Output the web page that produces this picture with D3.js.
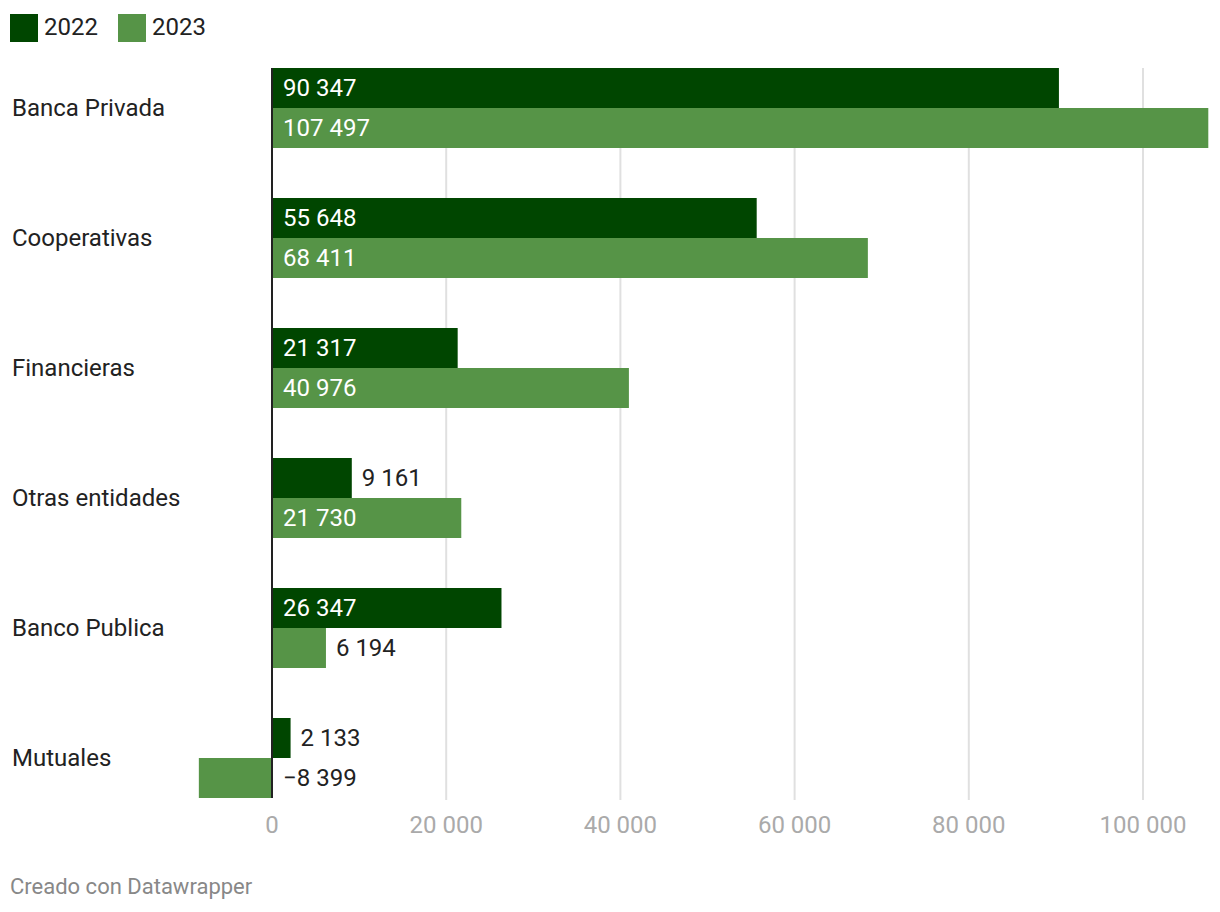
<!DOCTYPE html>
<html><head><meta charset="utf-8">
<script src="https://cdn.jsdelivr.net/npm/d3@7"></script>
<style>body{margin:0;background:#fff;font-family:Roboto,"Noto Sans",sans-serif;}</style>
</head><body><svg id="c" width="1220" height="912"></svg>
<script>
const categories = ["Banca Privada","Cooperativas","Financieras","Otras entidades","Banco Publica","Mutuales"];
const seriesNames = ["2022","2023"];
const values2022 = [90347,55648,21317,9161,26347,2133];
const values2023 = [107497,68411,40976,21730,6194,-8399];
const tickValues = [0,20000,40000,60000,80000,100000];
const colors = ["#004600","#569447"];

const svg = d3.select("#c");
const x = d3.scaleLinear().domain([0,100000]).range([272,1143]);
const yb = d3.scaleBand().domain(categories).range([68, 68+130*5+80]).paddingInner(50/130).paddingOuter(0);
const sub = d3.scaleBand().domain(seriesNames).range([0, yb.bandwidth()]);
const fmt = v => (v<0?"\u2212":"") + d3.format(",")(Math.abs(v)).replace(/,/g," ");

// gridlines
svg.append("g").selectAll("line").data(tickValues.filter(d=>d!==0)).join("line")
  .attr("x1",d=>x(d)).attr("x2",d=>x(d)).attr("y1",68).attr("y2",800)
  .attr("stroke","#e0e0e0").attr("stroke-width",2);

// axis labels
svg.append("g").selectAll("text").data(tickValues).join("text")
  .attr("x",d=>x(d)).attr("y",825).attr("text-anchor","middle").attr("dominant-baseline","central")
  .attr("fill","#aaaaaa").attr("font-size",24).text(d=>fmt(d));

const series = [values2022, values2023];
categories.forEach((c,i)=>{
  const g = svg.append("g");
  series.forEach((vals,s)=>{
    const v = vals[i];
    const y0 = yb(c)+sub(seriesNames[s]);
    const h = sub.bandwidth();
    g.append("rect").attr("x",Math.min(x(0),x(v))).attr("y",y0)
      .attr("width",Math.abs(x(v)-x(0))).attr("height",h).attr("fill",colors[s]);
    const inside = Math.abs(x(v)-x(0)) > 110 && v>0;
    g.append("text").attr("x", inside ? x(0)+11 : (v>0 ? x(v)+10 : x(0)+11))
      .attr("y",y0+h/2).attr("dominant-baseline","central")
      .attr("fill", inside ? "#ffffff" : "#222222").attr("font-size",24)
      .text(fmt(v));
  });
  g.append("text").attr("x",12).attr("y",yb(c)+yb.bandwidth()/2).attr("dominant-baseline","central")
    .attr("fill","#222").attr("font-size",24).text(c);
});

// zero line
svg.append("line").attr("x1",x(0)).attr("x2",x(0)).attr("y1",68).attr("y2",798)
  .attr("stroke","#222").attr("stroke-width",2);

// legend
const leg = svg.append("g");
let lx = 10;
seriesNames.forEach((n,i)=>{
  leg.append("rect").attr("x",lx).attr("y",14).attr("width",28).attr("height",28).attr("fill",colors[i]);
  leg.append("text").attr("x",lx+34).attr("y",27).attr("dominant-baseline","central")
    .attr("fill","#222").attr("font-size",24).text(n);
  lx = lx+108;
});

svg.append("text").attr("x",10).attr("y",886).attr("dominant-baseline","central")
  .attr("fill","#888").attr("font-size",22).text("Creado con Datawrapper");
</script></body></html>
